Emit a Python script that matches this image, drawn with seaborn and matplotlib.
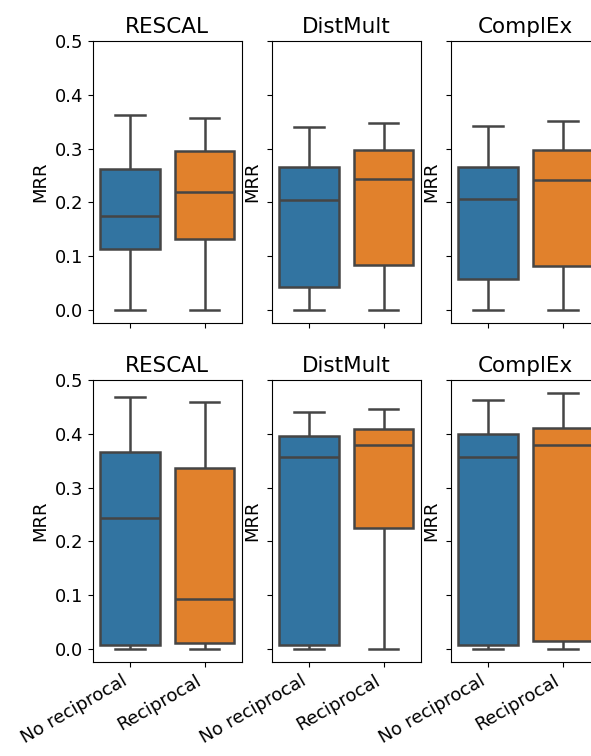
import matplotlib
matplotlib.use("Agg")
import pandas as pd
import matplotlib.pyplot as plt
import seaborn as sns

models = ["RESCAL", "DistMult", "ComplEx"]
settings = ["No reciprocal", "Reciprocal"]

# five-number summaries: min, q1, median, q3, max
top_no_recip = [
    [0.000, 0.114, 0.175, 0.262, 0.362],
    [0.000, 0.043, 0.204, 0.266, 0.341],
    [0.000, 0.058, 0.207, 0.265, 0.342],
]
top_recip = [
    [0.000, 0.133, 0.219, 0.296, 0.357],
    [0.000, 0.084, 0.243, 0.297, 0.347],
    [0.000, 0.082, 0.242, 0.297, 0.351],
]
bottom_no_recip = [
    [0.000, 0.007, 0.244, 0.367, 0.468],
    [0.000, 0.008, 0.357, 0.396, 0.441],
    [0.000, 0.007, 0.357, 0.399, 0.462],
]
bottom_recip = [
    [0.000, 0.011, 0.093, 0.337, 0.459],
    [0.000, 0.225, 0.380, 0.409, 0.446],
    [0.000, 0.015, 0.380, 0.411, 0.476],
]

records = []
for row, (no_recip, recip) in enumerate([(top_no_recip, top_recip),
                                          (bottom_no_recip, bottom_recip)]):
    for model, a, b in zip(models, no_recip, recip):
        for setting, vals in zip(settings, [a, b]):
            for v in vals:
                records.append({"row": row, "model": model,
                                "setting": setting, "MRR": v})
df = pd.DataFrame(records)

fig, axes = plt.subplots(
    2, 3, figsize=(5.91, 7.56), dpi=100,
    gridspec_kw=dict(left=0.157, right=1.015, bottom=0.1243, top=0.9458,
                     wspace=0.201, hspace=0.202),
)

for r in range(2):
    for c, model in enumerate(models):
        ax = axes[r, c]
        sub = df[(df["row"] == r) & (df["model"] == model)]
        sns.boxplot(data=sub, x="setting", y="MRR", hue="setting",
                    order=settings, hue_order=settings,
                    palette=["#1f77b4", "#ff7f0e"], whis=(0, 100),
                    linecolor=".27", linewidth=1.8, legend=False, ax=ax)
        ax.set_title(model, fontsize=15.5)
        ax.set_xlabel("")
        ax.set_ylabel("MRR", fontsize=13)
        ax.set_ylim(-0.024, 0.5)
        ax.set_yticks([0.0, 0.1, 0.2, 0.3, 0.4, 0.5])
        ax.tick_params(labelsize=13)
        if c > 0:
            ax.tick_params(labelleft=False)
        if r == 0:
            ax.tick_params(labelbottom=False)
        else:
            for lbl in ax.get_xticklabels():
                lbl.set_rotation(30)
                lbl.set_ha("right")

fig.savefig("out.png", dpi=100)
